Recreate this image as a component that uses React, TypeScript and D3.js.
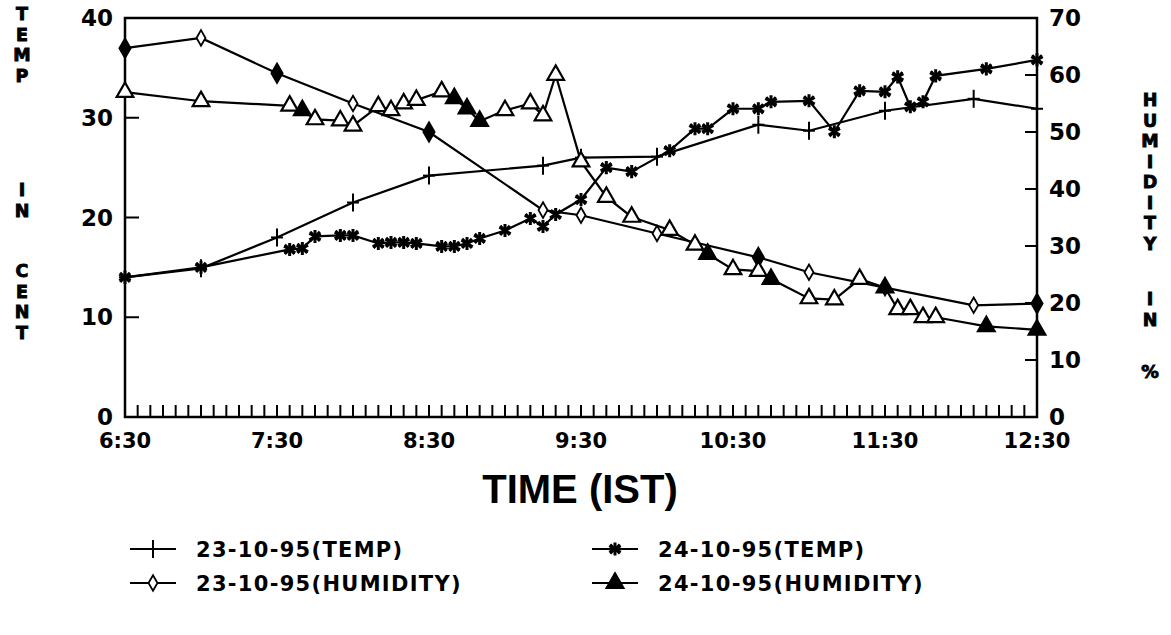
import React, { useEffect, useRef } from 'react';
import * as d3 from 'd3';

// 23-10-95 readings (half-hourly-ish)
const times23 = ['6:30', '7:00', '7:30', '8:00', '8:30', '9:15', '9:30', '10:00', '10:40', '11:00', '11:30', '12:05', '12:30'];
const temp23 = [14.0, 14.9, 18.0, 21.5, 24.2, 25.2, 26.0, 26.1, 29.3, 28.7, 30.7, 31.9, 30.9];
const hum23 = [64.7, 66.5, 60.3, 55.0, 50.0, 36.3, 35.4, 32.2, 28.0, 25.4, 22.7, 19.6, 19.9];

// 24-10-95 readings (about every 5-10 min)
const times24 = ['6:30', '7:00', '7:35', '7:40', '7:45', '7:55', '8:00', '8:10', '8:15', '8:20', '8:25', '8:35', '8:40', '8:45', '8:50', '9:00', '9:10', '9:15', '9:20', '9:30', '9:40', '9:50', '10:05', '10:15', '10:20', '10:30', '10:40', '10:45', '11:00', '11:10', '11:20', '11:30', '11:35', '11:40', '11:45', '11:50', '12:10', '12:30'];
const temp24 = [14.0, 15.0, 16.8, 16.9, 18.1, 18.2, 18.2, 17.4, 17.5, 17.5, 17.4, 17.1, 17.1, 17.4, 17.9, 18.7, 19.9, 19.1, 20.3, 21.8, 25.0, 24.6, 26.7, 28.9, 28.9, 30.9, 30.9, 31.6, 31.7, 28.6, 32.7, 32.6, 34.1, 31.1, 31.6, 34.2, 34.9, 35.8];
const hum24 = [57.0, 55.4, 54.6, 53.8, 52.2, 52.0, 51.1, 54.5, 53.8, 55.0, 55.6, 57.1, 55.9, 54.1, 51.9, 53.8, 55.0, 52.9, 60.0, 44.8, 38.6, 35.1, 32.8, 30.2, 28.6, 25.9, 25.6, 24.2, 20.8, 20.6, 24.2, 22.7, 18.9, 18.9, 17.5, 17.5, 15.9, 15.3];

// scanned print shows some markers solid
const filledDiamonds = ['6:30', '7:30', '8:30', '10:40', '12:30'];
const filledTriangles = ['7:40', '8:40', '8:45', '8:50', '10:20', '10:45', '11:30', '12:10', '12:30'];

const xTickLabels = ['6:30', '7:30', '8:30', '9:30', '10:30', '11:30', '12:30'];
const tempTicks = [0, 10, 20, 30, 40];
const humTicks = [0, 10, 20, 30, 40, 50, 60, 70];

const legendItems = [
  { label: '23-10-95(TEMP)', mark: 'plus' },
  { label: '24-10-95(TEMP)', mark: 'star' },
  { label: '23-10-95(HUMIDITY)', mark: 'diamond' },
  { label: '24-10-95(HUMIDITY)', mark: 'triangle' },
];

const leftTitle = [['T', 'E', 'M', 'P'], ['I', 'N'], ['C', 'E', 'N', 'T']];
const rightTitle = [['H', 'U', 'M', 'I', 'D', 'I', 'T', 'Y'], ['I', 'N'], ['%']];

const toMin = (t: string) => {
  const [h, m] = t.split(':').map(Number);
  return h * 60 + m;
};

export default function App() {
  const ref = useRef<SVGSVGElement>(null);

  useEffect(() => {
    const width = 1171;
    const height = 635;
    const m = { left: 125, right: 1037, top: 18, bottom: 417 };
    const font = 'DejaVu Sans, Liberation Sans, sans-serif';

    const svg = d3.select(ref.current).attr('viewBox', [0, 0, width, height]);
    svg.selectAll('*').remove();

    const x = d3.scaleLinear([toMin('6:30'), toMin('12:30')], [m.left, m.right]);
    const yT = d3.scaleLinear([0, 40], [m.bottom, m.top]);
    const yH = d3.scaleLinear([0, 70], [m.bottom, m.top]);

    const g = svg.append('g');

    // frame
    g.append('rect')
      .attr('x', m.left)
      .attr('y', m.top)
      .attr('width', m.right - m.left)
      .attr('height', m.bottom - m.top)
      .attr('fill', 'none')
      .attr('stroke', '#000')
      .attr('stroke-width', 2.5);

    // minor 5-minute ticks along bottom
    const minor = d3.range(toMin('6:30'), toMin('12:30') + 1, 5);
    g.selectAll('.mt')
      .data(minor)
      .join('line')
      .attr('x1', (d) => x(d))
      .attr('x2', (d) => x(d))
      .attr('y1', m.bottom)
      .attr('y2', m.bottom - 12)
      .attr('stroke', '#000')
      .attr('stroke-width', 2);

    g.selectAll('.xl')
      .data(xTickLabels)
      .join('text')
      .attr('x', (d) => x(toMin(d)))
      .attr('y', 448)
      .attr('text-anchor', 'middle')
      .attr('font-family', font)
      .attr('font-weight', 'bold')
      .attr('font-size', 21)
      .text((d) => d);

    // left axis
    g.selectAll('.lt')
      .data(tempTicks.filter((d) => d > 0 && d < 40))
      .join('line')
      .attr('x1', m.left)
      .attr('x2', m.left + 14)
      .attr('y1', (d) => yT(d))
      .attr('y2', (d) => yT(d))
      .attr('stroke', '#000')
      .attr('stroke-width', 2);
    g.selectAll('.ll')
      .data(tempTicks)
      .join('text')
      .attr('x', 113)
      .attr('y', (d) => yT(d) + 8)
      .attr('text-anchor', 'end')
      .attr('font-family', font)
      .attr('font-weight', 'bold')
      .attr('font-size', 23)
      .text((d) => d);

    // right axis
    g.selectAll('.rt')
      .data(humTicks.filter((d) => d > 0 && d < 70))
      .join('line')
      .attr('x1', m.right)
      .attr('x2', m.right - 12)
      .attr('y1', (d) => yH(d))
      .attr('y2', (d) => yH(d))
      .attr('stroke', '#000')
      .attr('stroke-width', 2);
    g.selectAll('.rl')
      .data(humTicks)
      .join('text')
      .attr('x', 1049)
      .attr('y', (d) => yH(d) + 8)
      .attr('text-anchor', 'start')
      .attr('font-family', font)
      .attr('font-weight', 'bold')
      .attr('font-size', 23)
      .text((d) => d);

    // vertical titles, one letter per line
    const stack = (groups: string[][], cx: number, starts: number[], step: number) => {
      groups.forEach((letters, gi) => {
        letters.forEach((ch, i) => {
          g.append('text')
            .attr('x', cx)
            .attr('y', starts[gi] + i * step + 7)
            .attr('text-anchor', 'middle')
            .attr('font-family', font)
            .attr('font-weight', 'bold')
            .attr('font-size', 17.5)
            .attr('stroke', '#000')
            .attr('stroke-width', 0.9)
            .text(ch);
        });
      });
    };
    stack(leftTitle, 22, [13, 189, 270], 20.5);
    stack(rightTitle, 1150, [99, 298, 371], 20.5);

    g.append('text')
      .attr('x', 580)
      .attr('y', 503)
      .attr('text-anchor', 'middle')
      .attr('font-family', 'Liberation Sans Narrow, Liberation Sans, Arial, sans-serif')
      .attr('font-weight', 'bold')
      .attr('font-size', 40)
      .text('TIME (IST)');

    // markers
    const drawMark = (sel: any, kind: string, px: number, py: number, filled = false) => {
      const mg = sel.append('g').attr('transform', `translate(${px},${py})`);
      if (kind === 'plus') {
        mg.append('line').attr('x1', 0).attr('x2', 0).attr('y1', -9).attr('y2', 9).attr('stroke', '#000').attr('stroke-width', 2);
        mg.append('line').attr('x1', -6).attr('x2', 6).attr('y1', 0).attr('y2', 0).attr('stroke', '#000').attr('stroke-width', 2);
      } else if (kind === 'star') {
        mg.append('path').attr('d', d3.symbol(d3.symbolAsterisk, 120)()).attr('stroke', '#000').attr('stroke-width', 3);
        mg.append('path').attr('d', d3.symbol(d3.symbolX, 60)()).attr('stroke', '#000').attr('stroke-width', 2.5);
      } else if (kind === 'diamond') {
        mg.append('path')
          .attr('d', d3.symbol(d3.symbolDiamond, filled ? 110 : 70)())
          .attr('fill', filled ? '#000' : '#fff')
          .attr('stroke', '#000')
          .attr('stroke-width', 1.8);
      } else {
        mg.append('path')
          .attr('d', d3.symbol(d3.symbolTriangle, 120)())
          .attr('fill', filled ? '#000' : '#fff')
          .attr('stroke', '#000')
          .attr('stroke-width', 2.2);
      }
    };

    const series = [
      { times: times23, values: temp23, y: yT, mark: 'plus', filled: [] as string[] },
      { times: times24, values: temp24, y: yT, mark: 'star', filled: [] as string[] },
      { times: times23, values: hum23, y: yH, mark: 'diamond', filled: filledDiamonds },
      { times: times24, values: hum24, y: yH, mark: 'triangle', filled: filledTriangles },
    ];

    const line = d3.line<[number, number]>().x((d) => d[0]).y((d) => d[1]);

    series.forEach((s) => {
      const pts = s.times.map((t, i) => [x(toMin(t)), s.y(s.values[i])] as [number, number]);
      g.append('path')
        .attr('d', line(pts))
        .attr('fill', 'none')
        .attr('stroke', '#000')
        .attr('stroke-width', 2.2);
      const mk = g.append('g');
      pts.forEach((p, i) => drawMark(mk, s.mark, p[0], p[1], s.filled.includes(s.times[i])));
    });

    // legend
    const lg = svg.append('g');
    legendItems.forEach((it, i) => {
      const col = i % 2;
      const row = Math.floor(i / 2);
      const lx = col === 0 ? 130 : 592;
      const ly = row === 0 ? 549 : 583;
      lg.append('line')
        .attr('x1', lx)
        .attr('x2', lx + 46)
        .attr('y1', ly)
        .attr('y2', ly)
        .attr('stroke', '#000')
        .attr('stroke-width', 2.2);
      drawMark(lg, it.mark, lx + 23, ly, it.mark === 'triangle');
      lg.append('text')
        .attr('x', lx + 66)
        .attr('y', ly + 8)
        .attr('font-family', font)
        .attr('font-weight', 'bold')
        .attr('font-size', 21)
        .attr('letter-spacing', 1.3)
        .text(it.label);
    });
  }, []);

  return (
    <svg
      ref={ref}
      width={1171}
      height={635}
      style={{ position: 'absolute', left: 0, top: 0, background: '#fff' }}
    />
  );
}
